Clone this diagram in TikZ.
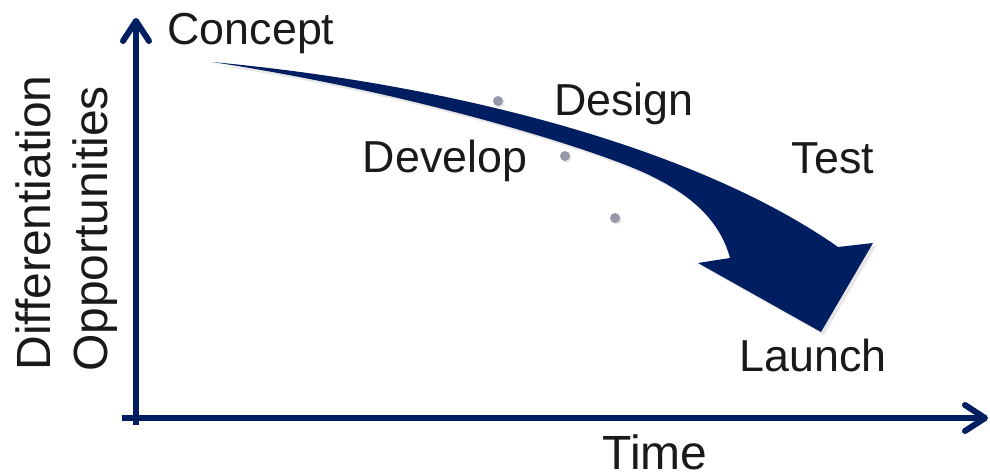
\documentclass[tikz,border=0pt]{standalone}
\usepackage{fontspec}
\setmainfont{Liberation Sans}
\usetikzlibrary{arrows.meta,shadows}
\definecolor{navy}{RGB}{0,30,96}
\definecolor{dotgray}{RGB}{150,152,170}
\definecolor{ink}{RGB}{26,26,26}

\begin{document}
\begin{tikzpicture}[x=0.5pt,y=-0.5pt,
		stage/.style={anchor=base,text=ink,inner sep=0pt,font=\fontsize{22.4}{26}\selectfont},
		axislabel/.style={anchor=base,text=ink,inner sep=0pt,font=\fontsize{24}{28}\selectfont},
		axis/.style={draw=navy,line width=3pt,-{Straight Barb[length=10pt,width=13pt,round]}},
		stop/.style={circle,fill=dotgray,minimum size=5pt,inner sep=0pt,
			drop shadow={shadow xshift=0.8pt,shadow yshift=-0.8pt,opacity=0.2}}]
	    \useasboundingbox (0,0) rectangle (990,476);

	    \coordinate (ytail) at (136,425);
	    \coordinate (ytip) at (136,18);
	    \coordinate (xtail) at (122,418);
	    \coordinate (xtip) at (988,418);
	    \draw[axis] (ytail) -- (ytip);
	    \draw[axis] (xtail) -- (xtip);

	    \fill[navy,drop shadow={shadow xshift=1.5pt,shadow yshift=-1.5pt,opacity=0.2}]
	        (212,62) .. controls (460,85) and (700,150) .. (838,247)
	        -- (873,243) -- (821,332) -- (698,263) -- (730,258)
	        .. controls (722,228) and (700,200) .. (655,178)
	        .. controls (620,158) and (430,95) .. (212,62) -- cycle;

	    \node[stop] (d1) at (498,101) {};
	    \node[stop] (d2) at (565,156) {};
	    \node[stop] (d3) at (615,218) {};

	    \node[stage] (concept) at (251,45) {Concept};
	    \node[stage] (design) at (624,116) {Design};
	    \node[stage] (develop) at (445,172) {Develop};
	    \node[stage] (test) at (833,173) {Test};
	    \node[stage] (launch) at (813,371) {Launch};

	    \node[axislabel] (time) at (655,469) {Time};
	    \node[axislabel,rotate=90] (diff) at (50,223) {Differentiation};
	    \node[axislabel,rotate=90] (opp) at (107,229) {Opportunities};
	\end{tikzpicture}
\end{document}
